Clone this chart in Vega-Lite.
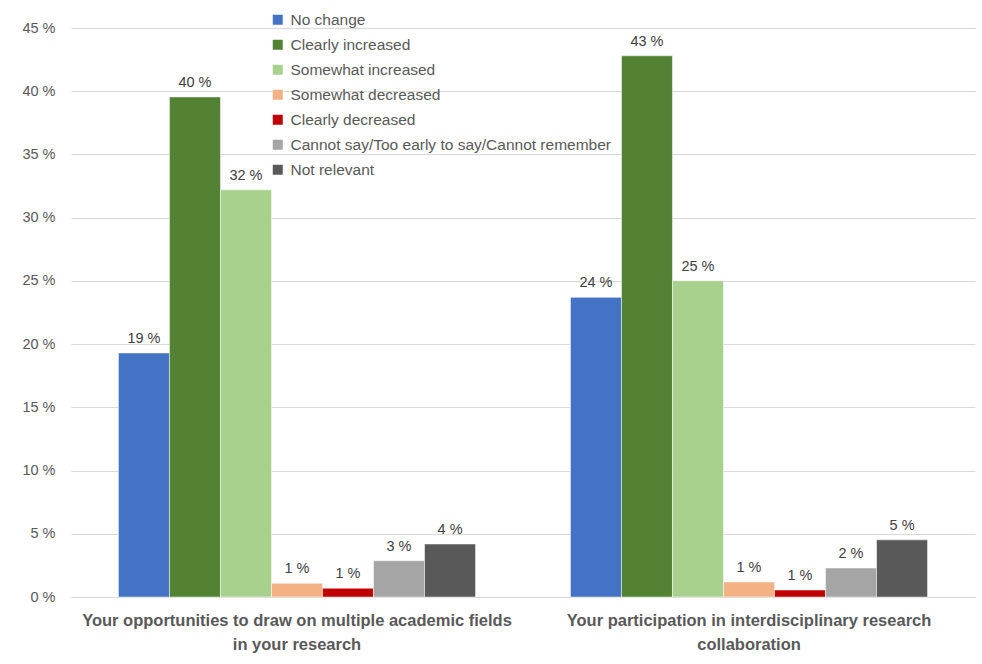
{
  "$schema": "https://vega.github.io/schema/vega-lite/v6.json",
  "width": 904,
  "height": 569,
  "autosize": {"type": "none"},
  "padding": {"left": 71, "top": 28, "right": 7, "bottom": 67},
  "background": "white",
  "config": {"view": {"stroke": null}, "font": "Liberation Sans"},
  "data": {
    "values": [
      {"item": "Your opportunities to draw on multiple academic fields|in your research", "response": "No change", "pct": 19.3},
      {"item": "Your opportunities to draw on multiple academic fields|in your research", "response": "Clearly increased", "pct": 39.55},
      {"item": "Your opportunities to draw on multiple academic fields|in your research", "response": "Somewhat increased", "pct": 32.2},
      {"item": "Your opportunities to draw on multiple academic fields|in your research", "response": "Somewhat decreased", "pct": 1.08},
      {"item": "Your opportunities to draw on multiple academic fields|in your research", "response": "Clearly decreased", "pct": 0.69},
      {"item": "Your opportunities to draw on multiple academic fields|in your research", "response": "Cannot say/Too early to say/Cannot remember", "pct": 2.87},
      {"item": "Your opportunities to draw on multiple academic fields|in your research", "response": "Not relevant", "pct": 4.19},
      {"item": "Your participation in interdisciplinary research|collaboration", "response": "No change", "pct": 23.7},
      {"item": "Your participation in interdisciplinary research|collaboration", "response": "Clearly increased", "pct": 42.8},
      {"item": "Your participation in interdisciplinary research|collaboration", "response": "Somewhat increased", "pct": 25.02},
      {"item": "Your participation in interdisciplinary research|collaboration", "response": "Somewhat decreased", "pct": 1.19},
      {"item": "Your participation in interdisciplinary research|collaboration", "response": "Clearly decreased", "pct": 0.55},
      {"item": "Your participation in interdisciplinary research|collaboration", "response": "Cannot say/Too early to say/Cannot remember", "pct": 2.29},
      {"item": "Your participation in interdisciplinary research|collaboration", "response": "Not relevant", "pct": 4.52}
    ]
  },
  "transform": [
    {"calculate": "format(datum.pct, '.0f') + ' %'", "as": "label"}
  ],
  "encoding": {
    "x": {
      "field": "item",
      "type": "nominal",
      "sort": null,
      "scale": {"paddingInner": 0.21, "paddingOuter": 0.105},
      "axis": {
        "title": null,
        "labelAngle": 0,
        "labelExpr": "split(datum.value, '|')",
        "labelFontWeight": "bold",
        "labelFontSize": 16.5,
        "labelColor": "#595959",
        "labelLineHeight": 24.5,
        "labelPadding": 15,
        "labelLimit": 700,
        "ticks": false,
        "domainColor": "#D9D9D9",
        "domainWidth": 1
      }
    },
    "xOffset": {
      "field": "response",
      "type": "nominal",
      "sort": ["No change", "Clearly increased", "Somewhat increased", "Somewhat decreased", "Clearly decreased", "Cannot say/Too early to say/Cannot remember", "Not relevant"],
      "scale": {"paddingInner": 0, "paddingOuter": 0}
    },
    "y": {
      "field": "pct",
      "type": "quantitative",
      "scale": {"domain": [0, 45], "nice": false},
      "axis": {
        "title": null,
        "values": [0, 5, 10, 15, 20, 25, 30, 35, 40, 45],
        "labelExpr": "datum.value + ' %'",
        "labelFontSize": 14.5,
        "labelColor": "#595959",
        "labelPadding": 16,
        "ticks": false,
        "domain": false,
        "gridColor": "#D9D9D9",
        "gridWidth": 1
      }
    }
  },
  "layer": [
    {
      "mark": {"type": "bar", "stroke": "white", "strokeWidth": 0.5},
      "encoding": {
        "color": {
          "field": "response",
          "type": "nominal",
          "sort": ["No change", "Clearly increased", "Somewhat increased", "Somewhat decreased", "Clearly decreased", "Cannot say/Too early to say/Cannot remember", "Not relevant"],
          "scale": {
            "domain": ["No change", "Clearly increased", "Somewhat increased", "Somewhat decreased", "Clearly decreased", "Cannot say/Too early to say/Cannot remember", "Not relevant"],
            "range": ["#4472C4", "#548235", "#A9D18E", "#F4B183", "#C00000", "#A5A5A5", "#595959"]
          },
          "legend": {
            "title": null,
            "orient": "none",
            "legendX": 199,
            "legendY": -16,
            "padding": 0,
            "symbolType": "square",
            "symbolSize": 100,
            "symbolStrokeWidth": 0,
            "labelFontSize": 15.5,
            "labelColor": "#595959",
            "labelOffset": 5,
            "labelLimit": 500,
            "rowPadding": 8
          }
        }
      }
    },
    {
      "mark": {"type": "text", "baseline": "bottom", "dy": -7, "fontSize": 14.5, "color": "#404040"},
      "encoding": {"text": {"field": "label", "type": "nominal"}}
    }
  ]
}
